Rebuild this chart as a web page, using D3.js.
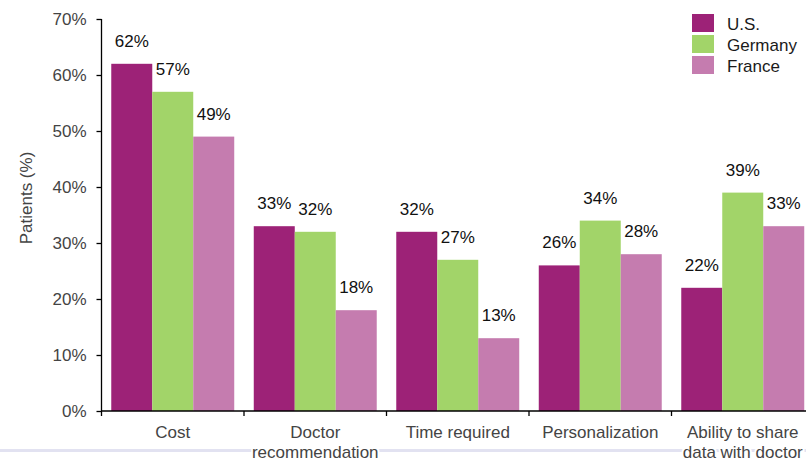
<!DOCTYPE html>
<html>
<head>
<meta charset="utf-8">
<script src="https://cdn.jsdelivr.net/npm/d3@7"></script>
<style>
  html, body { margin: 0; padding: 0; background: #fff; }
  svg { display: block; font-family: "Liberation Sans", Arial, sans-serif; }
</style>
</head>
<body>
<svg id="chart" width="806" height="460"></svg>
<script>
// Reasons patients give, by country (percent of patients)
const categories = [["Cost"], ["Doctor", "recommendation"], ["Time required"], ["Personalization"], ["Ability to share", "data with doctor"]];
const seriesNames = ["U.S.", "Germany", "France"];
const usValues = [62, 33, 32, 26, 22];
const germanyValues = [57, 32, 27, 34, 39];
const franceValues = [49, 18, 13, 28, 33];
const yTicks = [0, 10, 20, 30, 40, 50, 60, 70];
const colors = ["#9d2277", "#a2d469", "#c57caf"];

const seriesValues = [usValues, germanyValues, franceValues];
const svg = d3.select("#chart");
const W = 806;

const plotLeft = 101.5, plotBottom = 411, plotTop = 19;
const groupStep = 142.5;
const catKeys = categories.map((c, i) => i);

const x0 = d3.scaleBand()
  .domain(catKeys)
  .range([plotLeft, plotLeft + groupStep * categories.length])
  .paddingInner(0.137)
  .paddingOuter(0.0685);
const x1 = d3.scaleBand()
  .domain(seriesNames)
  .range([0, x0.bandwidth()]);
const y = d3.scaleLinear().domain([0, 70]).range([plotBottom, plotTop]);

// faint divider under the axis labels
svg.append("rect")
  .attr("x", 0).attr("y", 449).attr("width", W).attr("height", 3)
  .attr("fill", "#e2e2f1");

// bars
const groups = svg.append("g").selectAll("g")
  .data(catKeys)
  .join("g")
  .attr("transform", d => `translate(${x0(d)},0)`);

groups.selectAll("rect")
  .data(ci => seriesNames.map((s, si) => ({ s, si, v: seriesValues[si][ci] })))
  .join("rect")
  .attr("x", d => x1(d.s))
  .attr("y", d => y(d.v))
  .attr("width", x1.bandwidth())
  .attr("height", d => plotBottom - y(d.v))
  .attr("fill", d => colors[d.si]);

// value labels
groups.selectAll("text")
  .data(ci => seriesNames.map((s, si) => ({ s, si, v: seriesValues[si][ci] })))
  .join("text")
  .attr("x", d => x1(d.s) + x1.bandwidth() / 2)
  .attr("y", d => y(d.v) - 17)
  .attr("text-anchor", "middle")
  .attr("font-size", 17)
  .attr("fill", "#111")
  .text(d => d.v + "%");

// y axis
const yAxis = svg.append("g")
  .attr("transform", `translate(${plotLeft},0)`)
  .call(d3.axisLeft(y).tickValues(yTicks).tickFormat(d => d + "%").tickSize(5).tickPadding(10));
yAxis.select(".domain").attr("stroke", "#000").attr("stroke-width", 1.3).attr("d", `M0,${plotTop}V${plotBottom}`);
yAxis.selectAll(".tick line").attr("stroke", "#000").attr("stroke-width", 1.3);
yAxis.selectAll(".tick text")
  .attr("font-size", 17).attr("fill", "#444")
  .attr("font-family", "Liberation Sans, Arial, sans-serif");

// x axis baseline and group separators
const xg = svg.append("g");
xg.append("line")
  .attr("x1", plotLeft).attr("x2", W + 10)
  .attr("y1", plotBottom).attr("y2", plotBottom)
  .attr("stroke", "#000").attr("stroke-width", 1.3);
const boundaries = catKeys.map(k => x0(k) - x0.step() * x0.paddingInner() / 2);
xg.selectAll("line.sep")
  .data(boundaries)
  .join("line")
  .attr("class", "sep")
  .attr("x1", d => d).attr("x2", d => d)
  .attr("y1", plotBottom).attr("y2", plotBottom + 5)
  .attr("stroke", "#000").attr("stroke-width", 1.3);

// category labels
const catLabels = xg.selectAll("text.cat")
  .data(catKeys)
  .join("text")
  .attr("class", "cat")
  .attr("text-anchor", "middle")
  .attr("font-size", 17)
  .attr("fill", "#444")
  .attr("stroke", "#fff")
  .attr("stroke-width", 4)
  .attr("paint-order", "stroke")
  .attr("transform", k => `translate(${x0(k) + x0.bandwidth() / 2},438)`);
catLabels.selectAll("tspan")
  .data(k => categories[k])
  .join("tspan")
  .attr("x", 0)
  .attr("dy", (d, i) => i === 0 ? 0 : 19.5)
  .text(d => d);

// y axis title
svg.append("text")
  .attr("transform", "translate(32,198) rotate(-90)")
  .attr("text-anchor", "middle")
  .attr("font-size", 17)
  .attr("fill", "#444")
  .text("Patients (%)");

// legend
const legend = svg.append("g").attr("transform", "translate(692,14)");
const items = legend.selectAll("g")
  .data(seriesNames)
  .join("g")
  .attr("transform", (d, i) => `translate(0,${i * 21})`);
items.append("rect")
  .attr("width", 22).attr("height", 18)
  .attr("fill", (d, i) => colors[i]);
items.append("text")
  .attr("x", 35).attr("y", 16)
  .attr("font-size", 17)
  .attr("fill", "#1a1a1a")
  .text(d => d);
</script>
</body>
</html>
